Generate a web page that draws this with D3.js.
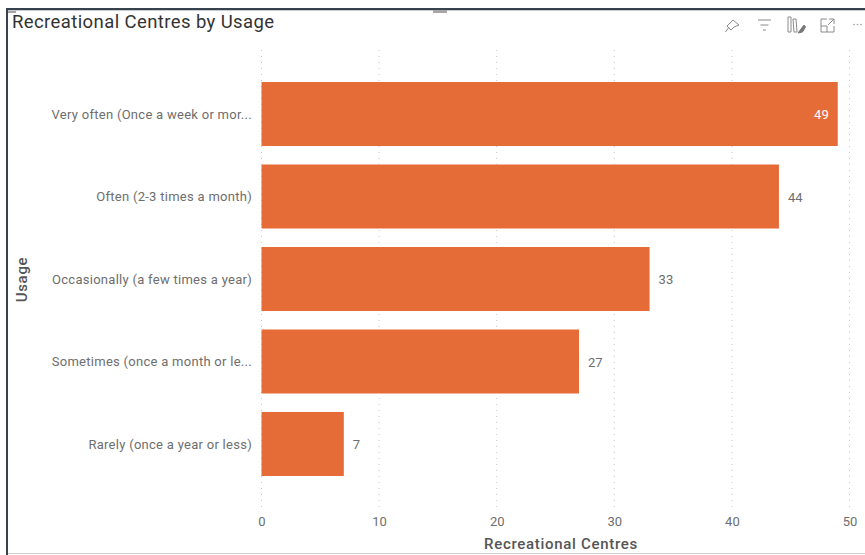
<!DOCTYPE html>
<html><head><meta charset="utf-8">
<script src="https://cdn.jsdelivr.net/npm/d3@7/dist/d3.min.js"></script>
<style>html,body{margin:0;padding:0;background:#fff}svg{display:block}text{font-family:Roboto,"Open Sans",sans-serif}</style>
</head><body><svg id="c" width="865" height="555"></svg>
<script>
const categories=["Very often (Once a week or mor...","Often (2-3 times a month)","Occasionally (a few times a year)","Sometimes (once a month or le...","Rarely (once a year or less)"];
const values=[49,44,33,27,7];
const xTicks=[0,10,20,30,40,50];
const title="Recreational Centres by Usage";
const xTitle="Recreational Centres";
const yTitle="Usage";

const svg=d3.select("#c");
const x=d3.scaleLinear().domain([0,50]).range([261.5,849.5]);
const y=d3.scaleBand().domain(categories).range([50,508]).paddingInner(0.224).paddingOuter(0.388);

// frame
svg.append("rect").attr("x",6).attr("y",8).attr("width",859).attr("height",2).attr("fill","#37424f");
svg.append("rect").attr("x",6).attr("y",10).attr("width",859).attr("height",1).attr("fill","#c9cccf");
svg.append("rect").attr("x",6).attr("y",8).attr("width",2).attr("height",547).attr("fill","#37424f");
svg.append("rect").attr("x",8).attr("y",553).attr("width",857).attr("height",1).attr("fill","#cfcfcf");
svg.append("rect").attr("x",433).attr("y",10).attr("width",14).attr("height",3).attr("fill","#a6a6a6");
svg.append("rect").attr("x",8).attr("y",11).attr("width",8).attr("height",2).attr("fill","#a6a6a6");

// gridlines
svg.append("g").selectAll("line").data(xTicks).join("line")
 .attr("x1",d=>x(d)).attr("x2",d=>x(d)).attr("y1",50).attr("y2",510)
 .attr("stroke","#c8c8c8").attr("stroke-width",1).attr("stroke-dasharray","1 5");

// bars
svg.append("g").selectAll("rect").data(values).join("rect")
 .attr("x",x(0)).attr("y",(d,i)=>y(categories[i]))
 .attr("width",d=>x(d)-x(0)).attr("height",y.bandwidth()).attr("fill","#e66c37");

// x axis
const xAxis=d3.axisBottom(x).tickValues(xTicks).tickSize(0).tickPadding(0);
const gx=svg.append("g").attr("transform","translate(0,517)").call(xAxis);
gx.select(".domain").remove();
gx.selectAll("text").attr("font-size",13).attr("fill","#6e6e6e").attr("dy","0.71em").style("font-family","Roboto,sans-serif");

// y axis
const yAxis=d3.axisLeft(y).tickSize(0).tickPadding(0);
const gy=svg.append("g").attr("transform","translate(252,0.5)").call(yAxis);
gy.select(".domain").remove();
gy.selectAll("text").attr("font-size",13).attr("letter-spacing",0.28).attr("fill","#6e6e6e").style("font-family","Roboto,sans-serif");

// data labels
svg.append("g").selectAll("text").data(values).join("text")
 .attr("x",(d,i)=>i===0?x(d)-9:x(d)+9)
 .attr("y",(d,i)=>y(categories[i])+y.bandwidth()/2+0.5)
 .attr("dy","0.35em").attr("text-anchor",(d,i)=>i===0?"end":"start")
 .attr("font-size",13).attr("fill",(d,i)=>i===0?"#fff":"#6e6e6e").text(d=>d);

// titles
svg.append("text").attr("x",12).attr("y",28).attr("font-size",18.5).attr("fill","#333").attr("letter-spacing",0.4).text(title);
svg.append("text").attr("x",561).attr("y",549).attr("text-anchor","middle").attr("font-size",15).attr("font-weight",500).attr("letter-spacing",0.7).attr("fill","#555").text(xTitle);
svg.append("text").attr("transform","translate(27,279.5) rotate(-90)").attr("text-anchor","middle").attr("font-size",15).attr("font-weight",500).attr("letter-spacing",0.7).attr("fill","#555").text(yTitle);

// visual header icons
const ic=svg.append("g").attr("fill","none").attr("stroke","#8a8a8a").attr("stroke-width",1);
ic.append("path").attr("d","M733 20l6 5-5 2-3 3-3-3-1-1 3-3zM729 27l-3.500 5");
ic.append("path").attr("d","M758 20h13M760.500 25h8M763 30h3");
ic.append("path").attr("d","M788 17h3v15h-3zM793 19l3 0 1 13h-3z");
ic.append("path").attr("d","M798 33l6-8 1.500 2-3 5z").attr("fill","#777").attr("stroke","#777");
ic.append("path").attr("d","M827 19h-6v13h13v-6M821 26h6v6M829 19h5v5M834 19l-6 6");
svg.append("g").selectAll("circle").data([854,857.5,861]).join("circle").attr("cx",d=>d).attr("cy",24.500).attr("r",0.8).attr("fill","#999");
</script></body></html>
